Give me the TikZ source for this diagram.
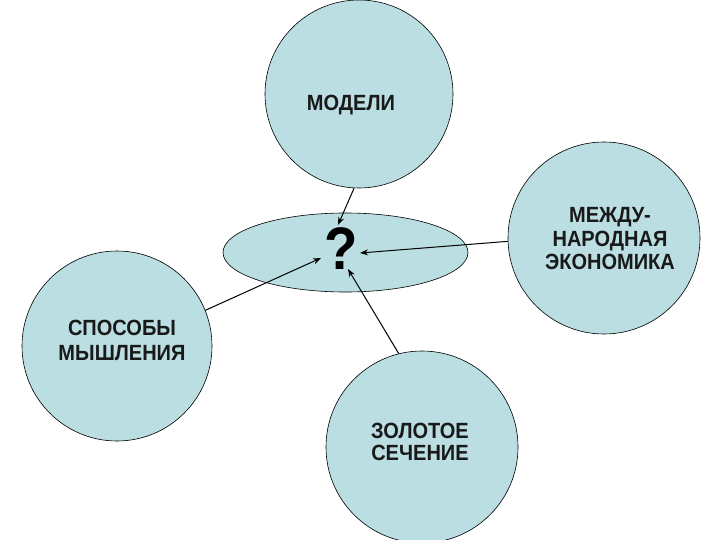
\documentclass[tikz,border=0pt]{standalone}
\usepackage{fontspec}
\setmainfont{Liberation Sans}
\newfontfamily\labfont[FakeStretch=0.91]{Liberation Sans}
\usetikzlibrary{arrows.meta,shapes.geometric}
\definecolor{bubble}{RGB}{186,222,226}
\tikzset{
  bub/.style={circle,draw=black,line width=0.6pt,fill=bubble,minimum size=#1,inner sep=0pt},
  lbl/.style={font=\labfont\bfseries\fontsize{22}{23.5}\selectfont,align=center,inner sep=0pt,text=black!90},
  arr/.style={draw=black,line width=1pt,-{Stealth[length=8pt,width=6pt]}}
}
\begin{document}
\begin{tikzpicture}[x=1pt,y=-1pt]
\useasboundingbox (0,0) rectangle (720,540);
\fill[white] (0,0) rectangle (720,540);
\node[bub=188pt] (mod) at (359,94) {};
\node[ellipse,draw=black,line width=0.6pt,fill=bubble,minimum width=245pt,minimum height=79pt,inner sep=0pt] (ell) at (345.5,252.5) {};
\node[bub=192pt] (eco) at (604,238) {};
\node[bub=190pt] (sp) at (117,346) {};
\node[bub=192pt] (zol) at (422,447) {};
\node[lbl] (tmod) at (351,105) {МОДЕЛИ};
\node[lbl] (teco) at (610,239) {МЕЖДУ-\\НАРОДНАЯ\\ЭКОНОМИКА};
\node[lbl,font=\labfont\bfseries\fontsize{22}{24.5}\selectfont] (tsp) at (122,340.5) {СПОСОБЫ\\МЫШЛЕНИЯ};
\node[lbl,font=\labfont\bfseries\fontsize{22}{22}\selectfont] (tzol) at (420,441.5) {ЗОЛОТОЕ\\СЕЧЕНИЕ};
\node[font=\labfont\bfseries\fontsize{60}{60}\selectfont,inner sep=0pt] (q) at (341,249) {?};
\coordinate (t1) at (338,225);
\coordinate (t2) at (360,253);
\coordinate (t3) at (321,258);
\coordinate (t4) at (348,269);
\draw[arr] (mod.-93) -- (t1);
\draw[arr] (eco.182) -- (t2);
\draw[arr] (sp.22) -- (t3);
\draw[arr] (zol.104) -- (t4);
\end{tikzpicture}
\end{document}
